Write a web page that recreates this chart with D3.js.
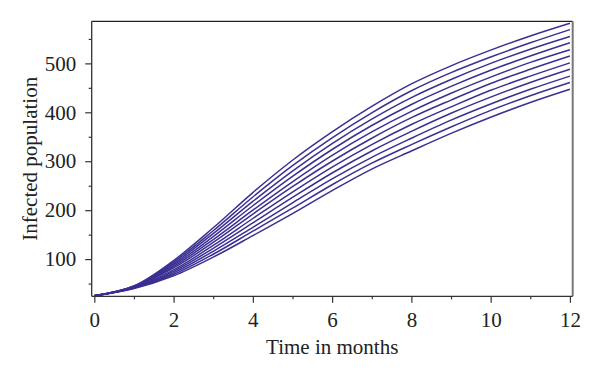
<!DOCTYPE html>
<html><head><meta charset="utf-8">
<script src="https://cdn.jsdelivr.net/npm/d3@7"></script>
<style>body{margin:0;background:#fff}svg{display:block}</style>
</head><body>
<svg id="c" width="600" height="375"></svg>
<script>
const months = [0,1,2,3,4,5,6,7,8,9,10,11,12];
const s0  = [25,40,66,104,148,193,240,284,321,357,390,420,447];
const s1  = [25,41,69,110,157,204,252,296,334,370,404,434,461];
const s2  = [25,41,72,116,165,215,264,308,347,384,417,447,474];
const s3  = [25,42,75,122,174,226,276,321,361,398,431,461,488];
const s4  = [25,42,78,128,183,237,288,334,375,411,445,474,501];
const s5  = [25,43,82,134,192,248,300,347,389,425,459,488,515];
const s6  = [25,43,85,140,200,258,312,360,402,439,472,502,528];
const s7  = [25,44,88,146,209,269,324,373,416,453,486,515,542];
const s8  = [25,44,91,152,218,280,336,386,430,467,500,529,555];
const s9  = [25,45,94,158,227,291,348,399,444,481,513,542,569];
const s10 = [25,45,97,164,236,302,360,412,458,495,527,556,582];
const series = [s0,s1,s2,s3,s4,s5,s6,s7,s8,s9,s10];
const xMajor = [0,2,4,6,8,10,12];
const xMinor = [1,3,5,7,9,11];
const yMajor = [100,200,300,400,500];
const yMinor = [50,150,250,350,450,550];
const xTitle = "Time in months";
const yTitle = "Infected population";

const svg = d3.select("#c");
const L = 91.7, R = 572.7, T = 21.3, B = 296.3;
const x = d3.scaleLinear().domain([-0.066, 12.07]).range([L, R]);
const y = d3.scaleLinear().domain([24, 586]).range([B, T]);
const font = "'Liberation Serif','Times New Roman',serif";
const col = "#3a2f92";

// lines
const line = d3.line().x((d,i)=>x(months[i])).y(d=>y(d)).curve(d3.curveCatmullRom.alpha(0.5));
svg.append("g").selectAll("path").data(series).join("path")
  .attr("d", line).attr("fill","none").attr("stroke", col).attr("stroke-width",1.5);

// frame
svg.append("line").attr("x1",L).attr("x2",R).attr("y1",T).attr("y2",T).attr("stroke","#222").attr("stroke-width",1.2);
svg.append("line").attr("x1",R).attr("x2",R).attr("y1",T).attr("y2",B).attr("stroke","#777").attr("stroke-width",2);

// axes
svg.append("g").attr("class","xa").attr("transform",`translate(0,${B})`)
  .call(d3.axisBottom(x).tickValues(xMajor).tickSize(6.5).tickPadding(9).tickFormat(d3.format("d")));
svg.append("g").attr("transform",`translate(0,${B})`)
  .call(d3.axisBottom(x).tickValues(xMinor).tickSize(3).tickFormat(""))
  .call(g=>g.select(".domain").remove());
svg.append("g").attr("class","ya").attr("transform",`translate(${L},0)`)
  .call(d3.axisLeft(y).tickValues(yMajor).tickSize(6.5).tickPadding(9).tickFormat(d3.format("d")));
svg.append("g").attr("transform",`translate(${L},0)`)
  .call(d3.axisLeft(y).tickValues(yMinor).tickSize(3).tickFormat(""))
  .call(g=>g.select(".domain").remove());
svg.select(".xa .domain").attr("d",`M${L},0H${R}`);
svg.select(".ya .domain").attr("d",`M0,${T}V${B}`);
svg.selectAll(".domain").attr("stroke","#333").attr("stroke-width",1.3);
svg.selectAll(".tick line").attr("stroke","#333").attr("stroke-width",1.2);
svg.selectAll(".tick text").attr("font-family",font).attr("font-size",21).attr("fill","#222");

svg.append("text").attr("x",(L+R)/2).attr("y",354).attr("text-anchor","middle")
  .attr("font-family",font).attr("font-size",21).attr("fill","#222").text(xTitle);
svg.append("text").attr("transform",`translate(37,${(T+B)/2}) rotate(-90)`).attr("text-anchor","middle")
  .attr("font-family",font).attr("font-size",21).attr("fill","#222").text(yTitle);
</script>
</body></html>
